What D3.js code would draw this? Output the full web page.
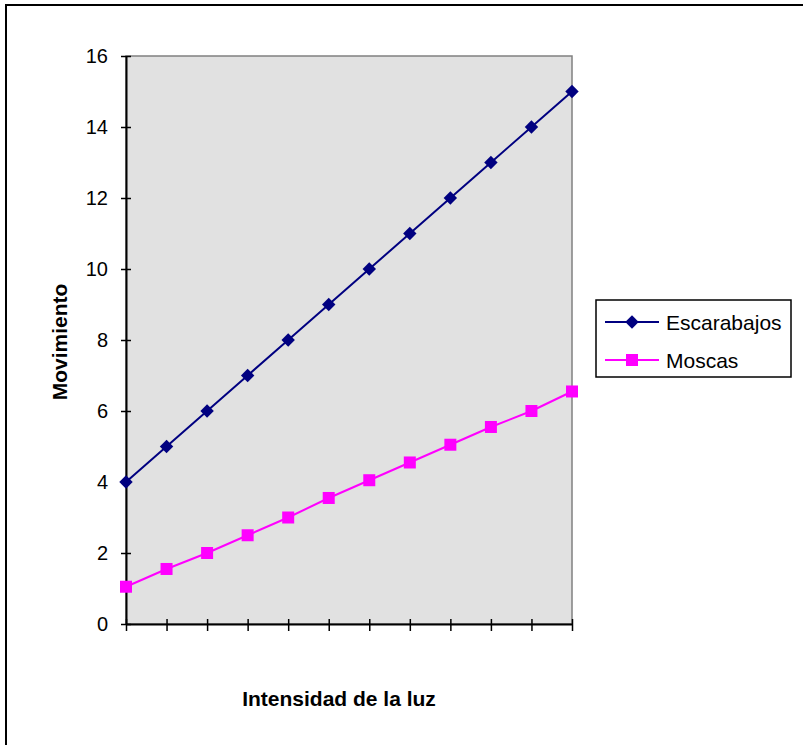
<!DOCTYPE html>
<html>
<head>
<meta charset="utf-8">
<script src="https://cdn.jsdelivr.net/npm/d3@7"></script>
<style>
  body { margin: 0; background: #fff; }
  svg { display: block; font-family: "Liberation Sans", Arial, sans-serif; }
</style>
</head>
<body>
<svg id="chart" width="803" height="745"></svg>
<script>
// data
var categories = [1, 2, 3, 4, 5, 6, 7, 8, 9, 10, 11, 12];
var escarabajos = [4, 5, 6, 7, 8, 9, 10, 11, 12, 13, 14, 15];
var moscas = [1.05, 1.55, 2.0, 2.5, 3.0, 3.55, 4.05, 4.55, 5.05, 5.55, 6.0, 6.55];
var yTicks = [0, 2, 4, 6, 8, 10, 12, 14, 16];
var seriesNames = ["Escarabajos", "Moscas"];

var svg = d3.select("#chart");

// outer frame of the chart area (runs off right and bottom)
svg.append("rect")
  .attr("x", 6).attr("y", 5)
  .attr("width", 830).attr("height", 800)
  .attr("fill", "none")
  .attr("stroke", "#000")
  .attr("stroke-width", 2);

var plot = { left: 126, top: 56, right: 572, bottom: 624 };

var x = d3.scalePoint()
  .domain(categories)
  .range([plot.left, plot.right])
  .padding(0);

var y = d3.scaleLinear()
  .domain([0, 16])
  .range([plot.bottom, plot.top]);

// plot area background
svg.append("rect")
  .attr("x", plot.left).attr("y", plot.top)
  .attr("width", plot.right - plot.left)
  .attr("height", plot.bottom - plot.top)
  .attr("fill", "#e1e1e1")
  .attr("stroke", "#808080")
  .attr("stroke-width", 1.5);

// y axis
var yAxis = svg.append("g")
  .attr("transform", "translate(" + plot.left + ",0)")
  .call(d3.axisLeft(y).tickValues(yTicks).tickSize(5).tickSizeOuter(0).tickPadding(13));
yAxis.select(".domain").attr("stroke", "#000").attr("stroke-width", 2);
yAxis.selectAll(".tick line").attr("x2", 5).attr("x1", -5).attr("stroke-width", 1.5);
yAxis.selectAll(".tick text")
  .attr("font-size", "20px")
  .attr("font-family", "Liberation Sans, Arial, sans-serif")
  .attr("fill", "#000");

// x axis (ticks only, no labels)
var xAxis = svg.append("g")
  .attr("transform", "translate(0," + plot.bottom + ")")
  .call(d3.axisBottom(x).tickSize(7).tickSizeOuter(0).tickFormat(""));
xAxis.select(".domain").attr("stroke", "#000").attr("stroke-width", 2);
xAxis.selectAll(".tick line").attr("y1", -5).attr("y2", 7).attr("stroke-width", 1.5);

// lines
var line = d3.line()
  .x(function (d, i) { return x(categories[i]); })
  .y(function (d) { return y(d); });

svg.append("path")
  .datum(escarabajos)
  .attr("d", line)
  .attr("fill", "none")
  .attr("stroke", "#000080")
  .attr("stroke-width", 2);

svg.append("path")
  .datum(moscas)
  .attr("d", line)
  .attr("fill", "none")
  .attr("stroke", "#ff00ff")
  .attr("stroke-width", 2);

var diamond = d3.symbol().type(d3.symbolSquare).size(90);

svg.selectAll(".esc")
  .data(escarabajos)
  .enter().append("path")
  .attr("class", "esc")
  .attr("d", diamond)
  .attr("transform", function (d, i) {
    return "translate(" + x(categories[i]) + "," + y(d) + ") rotate(45)";
  })
  .attr("fill", "#000080");

svg.selectAll(".mos")
  .data(moscas)
  .enter().append("rect")
  .attr("class", "mos")
  .attr("x", function (d, i) { return x(categories[i]) - 6; })
  .attr("y", function (d) { return y(d) - 6; })
  .attr("width", 12).attr("height", 12)
  .attr("fill", "#ff00ff");

// axis titles
svg.append("text")
  .attr("x", 339).attr("y", 706)
  .attr("text-anchor", "middle")
  .attr("font-size", "21px")
  .attr("font-weight", "bold")
  .text("Intensidad de la luz");

svg.append("text")
  .attr("transform", "translate(67,342) rotate(-90)")
  .attr("text-anchor", "middle")
  .attr("font-size", "21px")
  .attr("font-weight", "bold")
  .text("Movimiento");

// legend
var legend = svg.append("g").attr("transform", "translate(596,300)");
legend.append("rect")
  .attr("width", 195).attr("height", 77)
  .attr("fill", "#fff")
  .attr("stroke", "#000")
  .attr("stroke-width", 1.5);

var legendColors = ["#000080", "#ff00ff"];
seriesNames.forEach(function (name, i) {
  var ly = 22 + i * 38;
  legend.append("line")
    .attr("x1", 9).attr("x2", 63)
    .attr("y1", ly).attr("y2", ly)
    .attr("stroke", legendColors[i])
    .attr("stroke-width", 2);
  if (i === 0) {
    legend.append("path")
      .attr("d", diamond)
      .attr("transform", "translate(36," + ly + ") rotate(45)")
      .attr("fill", legendColors[i]);
  } else {
    legend.append("rect")
      .attr("x", 30).attr("y", ly - 6)
      .attr("width", 12).attr("height", 12)
      .attr("fill", legendColors[i]);
  }
  legend.append("text")
    .attr("x", 70).attr("y", ly + 8)
    .attr("font-size", "21px")
    .text(name);
});
</script>
</body>
</html>
